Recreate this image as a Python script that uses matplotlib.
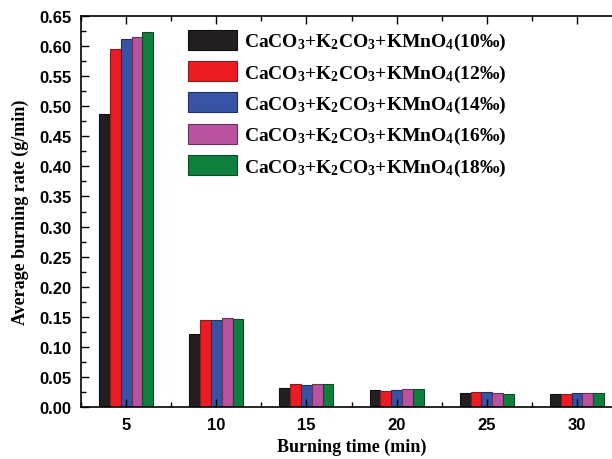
import numpy as np
import matplotlib
matplotlib.use('Agg')
import matplotlib.pyplot as plt
from matplotlib.ticker import MultipleLocator, FormatStrFormatter

plt.rcParams['mathtext.fontset'] = 'custom'
plt.rcParams['mathtext.rm'] = 'Liberation Serif:bold'
plt.rcParams['mathtext.it'] = 'Liberation Serif:bold'
plt.rcParams['mathtext.bf'] = 'Liberation Serif:bold'

# Data
times = [5, 10, 15, 20, 25, 30]
labels = [r'CaCO$_3$+K$_2$CO$_3$+KMnO$_4$(10‰)',
          r'CaCO$_3$+K$_2$CO$_3$+KMnO$_4$(12‰)',
          r'CaCO$_3$+K$_2$CO$_3$+KMnO$_4$(14‰)',
          r'CaCO$_3$+K$_2$CO$_3$+KMnO$_4$(16‰)',
          r'CaCO$_3$+K$_2$CO$_3$+KMnO$_4$(18‰)']
rate_10 = [0.487, 0.121, 0.032, 0.0275, 0.024, 0.0216]
rate_12 = [0.596, 0.144, 0.0385, 0.027, 0.025, 0.021]
rate_14 = [0.611, 0.145, 0.037, 0.028, 0.0245, 0.023]
rate_16 = [0.615, 0.148, 0.038, 0.0296, 0.023, 0.0237]
rate_18 = [0.624, 0.147, 0.039, 0.0296, 0.022, 0.023]

series = [rate_10, rate_12, rate_14, rate_16, rate_18]
colors = ['#231f20', '#ed1c24', '#3953a4', '#b9539f', '#0f7f3e']
edges = ['#111111', '#8b1a1a', '#1f2f66', '#6b2f5c', '#0b4a25']

fig = plt.figure(figsize=(6.12, 4.6), dpi=100)
ax = fig.add_axes([0.1324, 0.113, 0.884, 0.85])

width = 0.6
x = np.array(times, dtype=float)
for i, (vals, c, ec, lab) in enumerate(zip(series, colors, edges, labels)):
    ax.bar(x + (i - 2) * width, vals, width, color=c, edgecolor=ec,
           linewidth=0.8, label=lab)

ax.set_xlim(2.5, 32.5)
ax.set_ylim(0, 0.65)
ax.set_xticks(times)
ax.xaxis.set_minor_locator(MultipleLocator(2.5))
ax.yaxis.set_major_locator(MultipleLocator(0.05))
ax.yaxis.set_minor_locator(MultipleLocator(0.025))
ax.yaxis.set_major_formatter(FormatStrFormatter('%.2f'))
ax.tick_params(which='both', direction='in', top=True, right=True,
               width=1.0)
ax.tick_params(which='major', length=6, labelsize=12, pad=7)
ax.tick_params(which='minor', length=3.5)
for lab in ax.get_xticklabels() + ax.get_yticklabels():
    lab.set_fontfamily('Liberation Sans')
    lab.set_fontweight('bold')
for s in ax.spines.values():
    s.set_linewidth(1.2)

ax.set_xlabel('Burning time (min)', fontfamily='Liberation Serif',
              fontweight='bold', fontsize=13, labelpad=4)
ax.set_ylabel('Average burning rate (g/min)', fontfamily='Liberation Serif',
              fontweight='bold', fontsize=13, labelpad=7)

ax.legend(loc='upper left', bbox_to_anchor=(0.184, 0.985), frameon=False,
          prop={'family': 'Liberation Serif', 'weight': 'bold', 'size': 14},
          handlelength=2.5, handleheight=1.2, handletextpad=0.35,
          labelspacing=0.45, borderaxespad=0)

plt.savefig('out.png', dpi=100)
